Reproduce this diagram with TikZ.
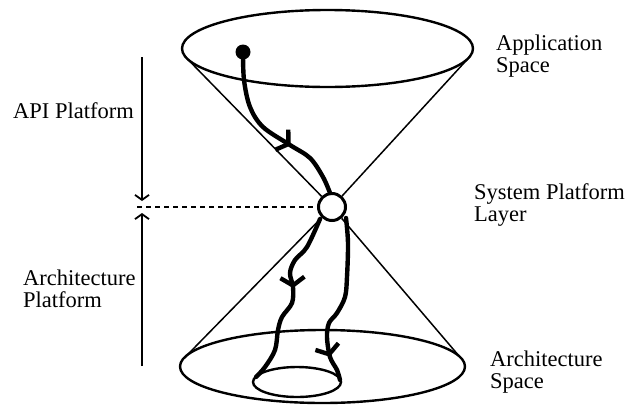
\documentclass[tikz,border=0pt]{standalone}
\usepackage{fontspec}
\setmainfont{Liberation Serif}
\usetikzlibrary{arrows.meta,decorations.markings}
\tikzset{
  rim/.style={line width=2.4pt},
  coneline/.style={line width=1.5pt},
  flow/.style={line width=4.4pt, line cap=round, line join=round},
  barb/.style={decoration={markings, mark=at position #1 with {\arrow{Straight Barb[length=8pt,width=24pt]}}}, postaction={decorate}},
  lbl/.style={inner sep=0pt, align=left, font=\fontsize{22.5pt}{21.5pt}\selectfont},
  span/.style={line width=1.8pt, -{Straight Barb[length=5pt,width=14pt]}}
}
\begin{document}
\begin{tikzpicture}[x=1pt,y=-1pt]
\useasboundingbox (0,0) rectangle (632,405);
% hub and dot
\node[circle, draw, line width=3pt, fill=white, minimum size=27pt, inner sep=0pt] (hub) at (332,207) {};
\node[circle, fill=black, minimum size=15pt, inner sep=0pt] (dot) at (243,52) {};
% ellipses
\draw[rim] (327.5,48.5) ellipse [x radius=145.5pt, y radius=38.5pt];
\draw[rim] (322.5,366.5) ellipse [x radius=142.5pt, y radius=36.5pt];
\draw[rim] (297,382) ellipse [x radius=44pt, y radius=15pt];
% cone lines
\coordinate (tl) at (186.6,58.1);
\coordinate (tr) at (468.9,57.6);
\coordinate (bl) at (184.4,357.9);
\coordinate (br) at (461.6,359.0);
\draw[coneline] (tl) -- (hub);
\draw[coneline] (tr) -- (hub);
\draw[coneline] (bl) -- (hub);
\draw[coneline] (br) -- (hub);
% dashed line and span arrows
\coordinate (dl) at (137,207);
\draw[line width=1.3pt, dash pattern=on 5pt off 4pt] (dl) -- (hub.west);
\coordinate (a1) at (142,57);
\coordinate (a2) at (142,201);
\coordinate (a3) at (142,213);
\coordinate (a4) at (142,366);
\draw[span] (a1) -- (a2);
\draw[span] (a4) -- (a3);
% flows
\draw[flow, barb=0.64] plot[smooth, tension=0.55] coordinates {(dot) (244,80) (250,107) (263,127) (290,145) (310,158) (323,177) (330,193)};
\draw[flow, barb=0.44] plot[smooth, tension=0.55] coordinates {(320,219) (307,247) (295,260) (290,273) (293,287) (292,303) (282,317) (278,330) (275,350) (265,367) (256,377)};
\draw[flow, barb=0.85] plot[smooth, tension=0.55] coordinates {(346,218) (348,243) (347,277) (345,297) (337,313) (329,323) (327,337) (330,357) (337,370) (340,380)};
% labels (base anchor = baseline of last line)
\node[lbl, anchor=base west] (app) at (496,72) {Application\\Space};
\node[lbl, anchor=base west] (sys) at (474,221) {System Platform\\Layer};
\node[lbl, anchor=base west] (arch) at (490,388) {Architecture\\Space};
\node[lbl, anchor=base west] (api) at (13,118) {API Platform};
\node[lbl, anchor=base west] (archp) at (23,307) {Architecture\\Platform};
\end{tikzpicture}
\end{document}
